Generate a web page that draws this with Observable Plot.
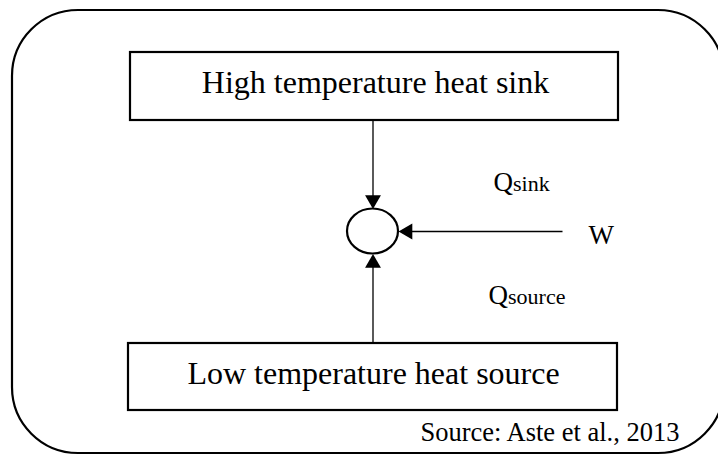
<!DOCTYPE html>
<html><head><meta charset="utf-8">
<script src="https://cdn.jsdelivr.net/npm/d3@7"></script>
<script src="https://cdn.jsdelivr.net/npm/@observablehq/plot@0.6"></script>
<style>
html,body{margin:0;padding:0;background:#fff;overflow:hidden;}
#chart svg, #chart svg text{font-family:"Liberation Serif","Times New Roman",Times,serif !important;}
</style>
</head><body><div id="chart"></div>
<script>
// Diagram structure (coordinates in diagram units, 718 x 455 canvas)
const frame = [{x1: 12, x2: 724, y1: 10, y2: 453}];
const boxLabels = ["High temperature heat sink", "Low temperature heat source"];
const boxes = [
  {x1: 130, x2: 618, y1: 52, y2: 120, tx: 375, ty: 92},
  {x1: 128, x2: 617, y1: 343, y2: 410, tx: 373, ty: 383}
];
const engine = [{cx: 372.5, cy: 231, rx: 25.5, ry: 22.5}];
const flows = [
  {name: "Qsink", x1: 372.5, y1: 120, x2: 372.5, y2: 208.5},
  {name: "Qsource", x1: 372.5, y1: 343, x2: 372.5, y2: 253.5},
  {name: "W", x1: 562, y1: 231, x2: 398, y2: 231}
];
const symbolMain = ["Q", "Q", "W"];
const symbolSub = ["sink", "source", ""];
const symbolPos = [{x: 493, y: 190}, {x: 488, y: 303}, {x: 588, y: 243}];
const sourceNote = "Source: Aste et al., 2013";

const serif = "Liberation Serif";
const headLen = 9.2;
const mainSize = 27, subSize = 22;

const boxData = boxes.map((b, i) => ({...b, label: boxLabels[i]}));
const lineData = flows.map(f => {
  const dx = f.x2 - f.x1, dy = f.y2 - f.y1, L = Math.hypot(dx, dy);
  const ux = dx / L, uy = dy / L;
  return {...f, ex: f.x2 - ux * headLen, ey: f.y2 - uy * headLen,
          hx: f.x2 - ux * headLen, hy: f.y2 - uy * headLen,
          rot: Math.atan2(dy, dx) * 180 / Math.PI + 90};
});
const mainLabels = symbolPos.map((p, i) => ({...p, t: symbolMain[i]}));
const subLabels = symbolPos.map((p, i) => ({x: p.x + (symbolMain[i] === "Q" ? 0.722 * mainSize : 0), y: p.y, t: symbolSub[i]})).filter(d => d.t);
const ellipse = engine.map(e => ({x1: e.cx - e.rx, x2: e.cx + e.rx, y1: e.cy - e.ry, y2: e.cy + e.ry, rx: e.rx, ry: e.ry}));

const chart = Plot.plot({
  width: 718, height: 455,
  margin: 0,
  x: {domain: [0, 718], range: [0, 718], axis: null},
  y: {domain: [0, 455], range: [0, 455], axis: null},
  style: {background: "#fff", overflow: "hidden", fontFamily: serif},
  marks: [
    Plot.rect(frame, {x1: "x1", x2: "x2", y1: "y1", y2: "y2", rx: 66, ry: 66, fill: "none", stroke: "#000", strokeWidth: 2.2}),
    Plot.rect(boxData, {x1: "x1", x2: "x2", y1: "y1", y2: "y2", fill: "#fff", stroke: "#000", strokeWidth: 2.2}),
    Plot.text(boxData, {x: "tx", y: "ty", text: "label", fontFamily: serif, fontSize: 32, lineAnchor: "bottom", textAnchor: "middle", fill: "#000"}),
    Plot.link(lineData, {x1: "x1", y1: "y1", x2: "ex", y2: "ey", stroke: "#000", strokeWidth: 1.3}),
    Plot.dot(lineData, {x: "hx", y: "hy", symbol: "triangle", r: 5.9, rotate: "rot", fill: "#000", stroke: "none"}),
    Plot.rect(ellipse, {x1: "x1", x2: "x2", y1: "y1", y2: "y2", rx: engine[0].rx, ry: engine[0].ry, fill: "#fff", stroke: "#000", strokeWidth: 2.2}),
    Plot.text(mainLabels, {x: "x", y: "y", text: "t", fontFamily: serif, fontSize: mainSize, lineAnchor: "bottom", textAnchor: "start", fill: "#000"}),
    Plot.text(subLabels, {x: "x", y: "y", text: "t", fontFamily: serif, fontSize: subSize, lineAnchor: "bottom", textAnchor: "start", fill: "#000"}),
    Plot.text([sourceNote], {x: () => 679, y: () => 440, text: d => d, fontFamily: serif, fontSize: 26.5, lineAnchor: "bottom", textAnchor: "end", fill: "#000"})
  ]
});
document.getElementById("chart").append(chart);
</script>
</body></html>
